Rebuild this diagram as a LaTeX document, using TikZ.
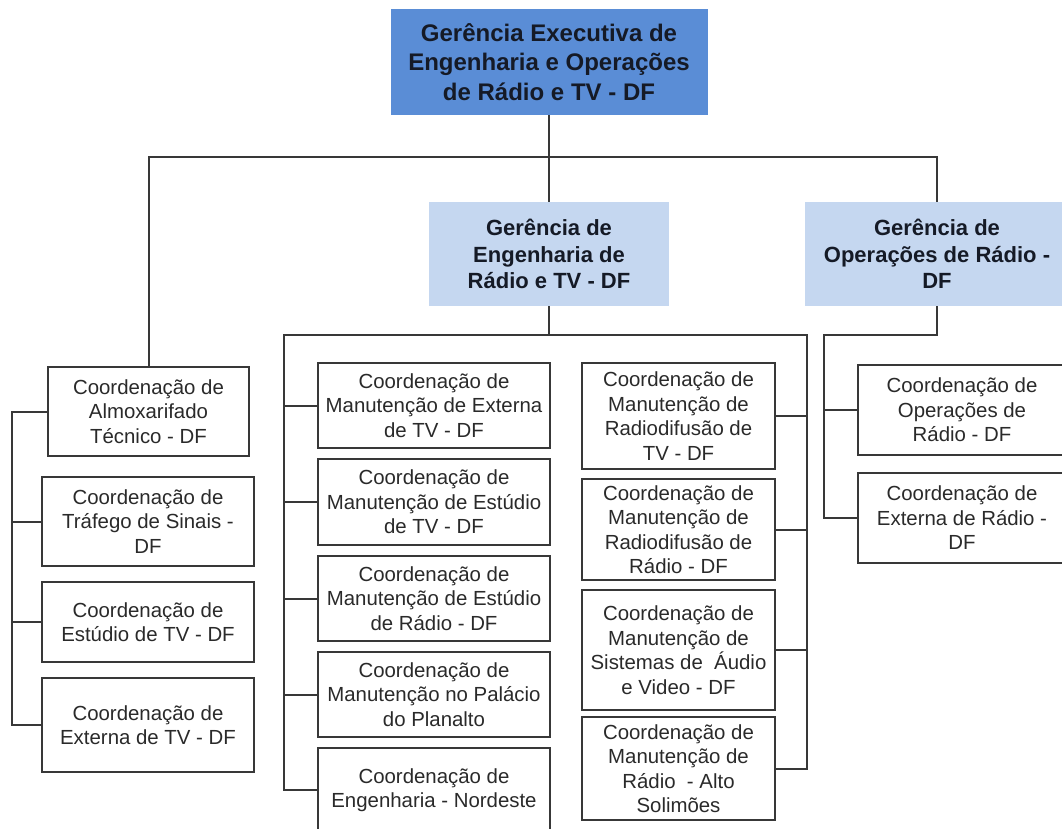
\documentclass[tikz,border=0pt]{standalone}
\usepackage{fontspec}
\setmainfont{Liberation Sans}
\definecolor{topblue}{HTML}{5A8DD6}
\definecolor{lightblue}{HTML}{C5D7F0}
\definecolor{linegray}{HTML}{383838}
\definecolor{txtgray}{HTML}{2A2A2A}
\definecolor{hdtxt}{HTML}{151A26}
\begin{document}
\begin{tikzpicture}[x=1pt,y=-1pt,
  cbox/.style={draw=linegray, line width=2pt, fill=white, inner sep=0pt, align=center,
    text=txtgray, font=\fontsize{20.4}{24.5}\selectfont},
  topbox/.style={fill=topblue, inner sep=0pt, align=center, text=hdtxt,
    font=\bfseries\fontsize{24}{29.5}\selectfont},
  midbox/.style={fill=lightblue, inner sep=0pt, align=center, text=hdtxt,
    font=\bfseries\fontsize{22}{26.5}\selectfont},
  conn/.style={draw=linegray, line width=2pt}
]
\useasboundingbox (0,0) rectangle (1062,828);
\clip (0,0) rectangle (1062,828);
\fill[white] (0,0) rectangle (1062,828);

% headers
\node[topbox, minimum width=317pt, minimum height=106pt] (top) at (549,62) {Gerência Executiva de\\Engenharia e Operações\\de Rádio e TV - DF};
\node[midbox, minimum width=240pt, minimum height=104pt] (eng) at (549,254) {Gerência de\\Engenharia de\\Rádio e TV - DF};
\node[midbox, minimum width=264pt, minimum height=104pt] (ops) at (937,254) {Gerência de\\Operações de Rádio -\\DF};

% left column
\node[cbox, minimum width=201pt, minimum height=89pt] (almox) at (148.5,411.5) {Coordenação de\\Almoxarifado\\Técnico - DF};
\node[cbox, minimum width=212pt, minimum height=89pt] (traf) at (148,521.5) {Coordenação de\\Tráfego de Sinais -\\DF};
\node[cbox, minimum width=212pt, minimum height=80pt] (estv) at (148,622) {Coordenação de\\Estúdio de TV - DF};
\node[cbox, minimum width=212pt, minimum height=94pt] (extv) at (148,725) {Coordenação de\\Externa de TV - DF};

% middle column
\node[cbox, minimum width=232pt, minimum height=85pt] (m1) at (434,405.5) {Coordenação de\\Manutenção de Externa\\de TV - DF};
\node[cbox, minimum width=232pt, minimum height=86pt] (m2) at (434,502) {Coordenação de\\Manutenção de Estúdio\\de TV - DF};
\node[cbox, minimum width=232pt, minimum height=85pt] (m3) at (434,598.5) {Coordenação de\\Manutenção de Estúdio\\de Rádio - DF};
\node[cbox, minimum width=232pt, minimum height=85pt] (m4) at (434,694.5) {Coordenação de\\Manutenção no Palácio\\do Planalto};
\node[cbox, minimum width=232pt, minimum height=84pt] (m5) at (434,790) {Coordenação de\\Engenharia - Nordeste};

% right column
\node[cbox, minimum width=193pt, minimum height=106pt] (r1) at (678.5,416) {Coordenação de\\Manutenção de\\Radiodifusão de\\TV - DF};
\node[cbox, minimum width=193pt, minimum height=101pt] (r2) at (678.5,529.5) {Coordenação de\\Manutenção de\\Radiodifusão de\\Rádio - DF};
\node[cbox, minimum width=193pt, minimum height=120pt] (r3) at (678.5,650) {Coordenação de\\Manutenção de\\Sistemas de\ \ Áudio\\e Video - DF};
\node[cbox, minimum width=193pt, minimum height=103pt] (r4) at (678.5,768.5) {Coordenação de\\Manutenção de\\Rádio\ \ - Alto\\Solimões};

% operations column
\node[cbox, minimum width=208pt, minimum height=90pt] (o1) at (962,410) {Coordenação de\\Operações de\\Rádio - DF};
\node[cbox, minimum width=208pt, minimum height=90pt] (o2) at (962,518) {Coordenação de\\Externa de Rádio -\\DF};

% junction coordinates
\coordinate (j1) at (549,157);
\coordinate (lx) at (12,411.5);
\coordinate (mL) at (284,335);
\coordinate (mR) at (807,335);
\coordinate (oL) at (824,335);

% top level connectors
\draw[conn] (top.south) -- (j1);
\draw[conn] (j1) -| (almox.north);
\draw[conn] (j1) -| (ops.north);
\draw[conn] (j1) -- (eng.north);

% left column
\draw[conn] (almox.west) -- (lx) |- (extv.west);
\draw[conn] (traf.west) -- (traf.west -| lx);
\draw[conn] (estv.west) -- (estv.west -| lx);

% middle & right columns
\draw[conn] (eng.south) -- (eng.south |- mL);
\draw[conn] (m5.west) -| (mL) -- (mR) |- (r4.east);
\draw[conn] (m1.west) -- (m1.west -| mL);
\draw[conn] (m2.west) -- (m2.west -| mL);
\draw[conn] (m3.west) -- (m3.west -| mL);
\draw[conn] (m4.west) -- (m4.west -| mL);
\draw[conn] (r1.east) -- (r1.east -| mR);
\draw[conn] (r2.east) -- (r2.east -| mR);
\draw[conn] (r3.east) -- (r3.east -| mR);

% operations
\draw[conn] (ops.south) |- (oL) |- (o2.west);
\draw[conn] (o1.west) -- (o1.west -| oL);
\end{tikzpicture}
\end{document}
